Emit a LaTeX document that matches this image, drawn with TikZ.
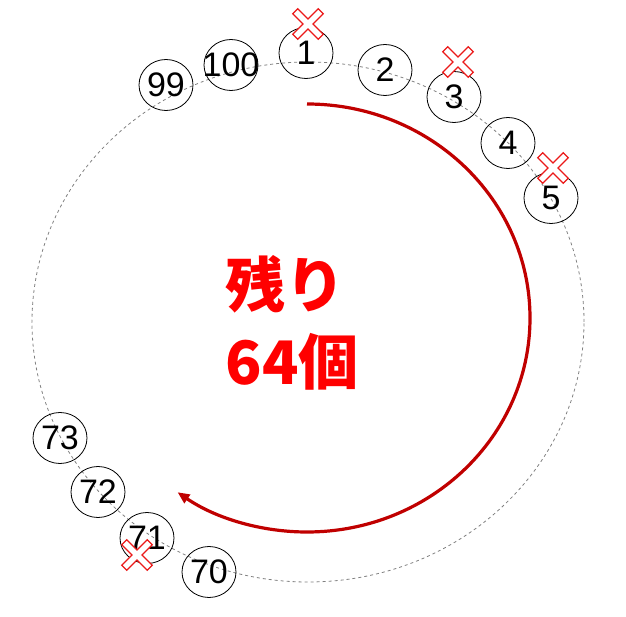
\documentclass[tikz,border=0pt]{standalone}
\usepackage{fontspec}
\setmainfont{Liberation Sans}
\newfontfamily\jpfont{Noto Sans CJK JP}
\usetikzlibrary{arrows.meta,shapes.geometric}
\definecolor{arrowred}{RGB}{192,0,0}
\definecolor{markred}{RGB}{235,25,25}
\begin{document}
\begin{tikzpicture}[x=1pt,y=1pt,
ball/.style={ellipse,draw,line width=.8pt,minimum width=54pt,minimum height=51pt,inner sep=0pt,font=\fontsize{34}{34}\selectfont},
xmark/.style={draw=markred,fill=white,line width=1.2pt,line join=miter}]
\useasboundingbox(0,0)rectangle(626,616);
\draw[gray,dashed,line width=.8pt](308,294)ellipse[x radius=276,y radius=260];
\foreach\n/\x/\y in{1/306/563,2/385/546,3/454/519,4/508/473,5/551/418,100/231/551,99/166/531,73/60/178,72/98/124,71/147/78,70/209/44}{
\node[ball](n\n)at(\x,\y){\makebox[0pt]{\n}};}
\foreach\x/\y in{308/592,458/554,553/448,137/61}{
\draw[xmark,shift={(\x,\y)},rotate=45](3.5,3.5)--(18,3.5)--(18,-3.5)--(3.5,-3.5)--(3.5,-18)--(-3.5,-18)--(-3.5,-3.5)--(-18,-3.5)--(-18,3.5)--(-3.5,3.5)--(-3.5,18)--(3.5,18)--cycle;}
\draw[arrowred,line width=3.2pt,-{Triangle[length=12pt,width=10pt]}](307,512)arc[start angle=90,end angle=-125.5,x radius=223,y radius=214];
\node[text=red,font=\jpfont\bfseries\fontsize{60}{77}\selectfont,align=left](rest)at(292,293){残り\\64個};
\end{tikzpicture}
\end{document}
